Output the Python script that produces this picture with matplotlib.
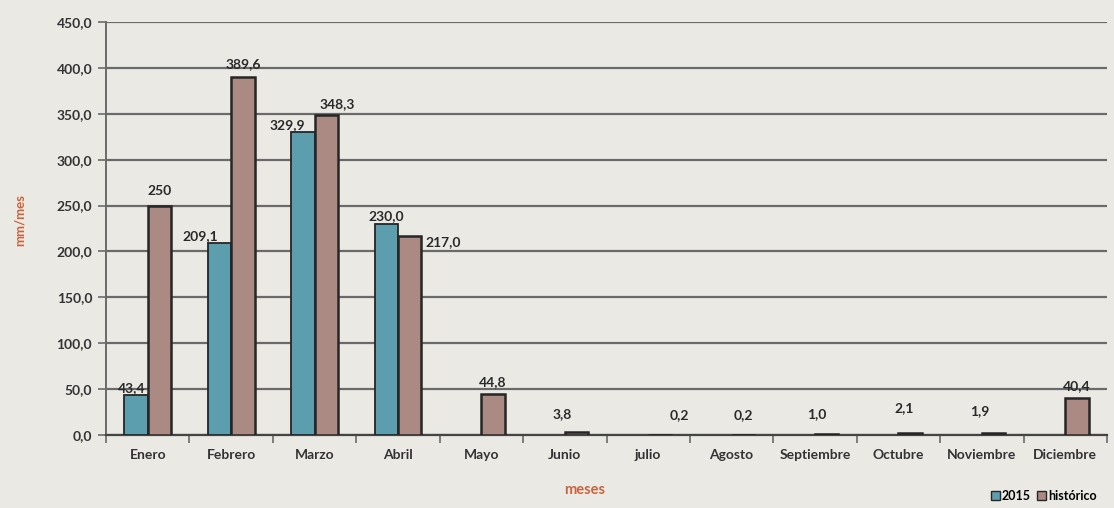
# Monthly rainfall 2015 vs historical average (mm/mes)

import numpy as np
import matplotlib.pyplot as plt
from matplotlib.patches import Patch

# Data
months = ["Enero", "Febrero", "Marzo", "Abril", "Mayo", "Junio", "julio",
          "Agosto", "Septiembre", "Octubre", "Noviembre", "Diciembre"]
rain_2015 = [43.4, 209.1, 329.9, 230.0, None, None, None, None, None, None, None, None]
rain_hist = [250.0, 389.6, 348.3, 217.0, 44.8, 3.8, 0.2, 0.2, 1.0, 2.1, 1.9, 40.4]
labels_2015 = ["43,4", "209,1", "329,9", "230,0"]
labels_hist = ["250", "389,6", "348,3", "217,0", "44,8", "3,8", "0,2", "0,2",
               "1,0", "2,1", "1,9", "40,4"]
yticks = [0, 50, 100, 150, 200, 250, 300, 350, 400, 450]

# Style
C_2015 = "#5d9eae"
C_HIST = "#aa8a82"
EDGE = "#262626"
BG = "#ebe9e4"
GRID = "#6a6a6a"
ORANGE = "#c8643e"
FONT = "Lato"
W = 0.28
FS = 10

# label offsets in points (dx, dy) -- tweaks to mimic the original placement
off_2015 = [(-3, 0), (-14, 0), (-11, 0), (0, 0)]
off_hist = [(0, 6), (0, 5), (8, 4), None, (0, 4), (-10, 8), (14, 10), (0, 10),
            (-7, 10), (-4, 14), (-10, 12), (0, 4)]

plt.rcParams["font.family"] = [FONT, "DejaVu Sans"]
plt.rcParams["font.weight"] = "bold"

fig = plt.figure(figsize=(11.14, 5.08), dpi=100, facecolor=BG)
ax = fig.add_axes([0.0952, 0.1437, 0.8985, 0.813])
ax.set_facecolor(BG)

x = np.arange(len(months))
idx_2015 = [i for i, v in enumerate(rain_2015) if v is not None]
vals_2015 = [rain_2015[i] for i in idx_2015]

ax.bar(x[idx_2015] - W / 2, vals_2015, width=W, color=C_2015,
       edgecolor=EDGE, linewidth=1.3, zorder=3)
ax.bar(x + W / 2, rain_hist, width=W, color=C_HIST,
       edgecolor=EDGE, linewidth=1.8, zorder=3)

# data labels
for k, i in enumerate(idx_2015):
    dx, dy = off_2015[k]
    ax.annotate(labels_2015[k], (x[i] - W / 2, rain_2015[i]),
                xytext=(dx, dy + 1), textcoords="offset points",
                ha="center", va="bottom", fontsize=FS, fontweight="bold",
                color="#2a2a2a", zorder=5)
for i, v in enumerate(rain_hist):
    if off_hist[i] is None:
        # Abril label sits to the right of the bar top
        ax.annotate(labels_hist[i], (x[i] + W, v), xytext=(3, 0),
                    textcoords="offset points", ha="left", va="top",
                    fontsize=FS, fontweight="bold", color="#2a2a2a", zorder=5)
        continue
    dx, dy = off_hist[i]
    ax.annotate(labels_hist[i], (x[i] + W / 2, v), xytext=(dx, dy),
                textcoords="offset points", ha="center", va="bottom",
                fontsize=FS, fontweight="bold", color="#2a2a2a", zorder=5)

# axes
ax.set_xlim(-0.5, len(months) - 0.5)
ax.set_ylim(0, 450)
ax.set_yticks(yticks)
ax.set_yticklabels([f"{v:.1f}".replace(".", ",") for v in yticks],
                   fontsize=FS, fontweight="bold", color="#333333")
ax.yaxis.grid(True, color=GRID, linewidth=1.6, zorder=0)
ax.set_axisbelow(True)
ax.tick_params(axis="y", length=6, width=1.2, color=GRID, pad=4)

ax.set_xticks(np.arange(len(months) + 1) - 0.5)
ax.set_xticklabels([])
ax.set_xticks(x, minor=True)
ax.set_xticklabels(months, minor=True, fontsize=FS, fontweight="bold", color="#333333")
ax.tick_params(axis="x", which="major", length=6, width=1.2, color=GRID)
ax.tick_params(axis="x", which="minor", length=0, pad=10)

for s in ["top", "right"]:
    ax.spines[s].set_visible(False)
ax.spines["left"].set_color(GRID)
ax.spines["left"].set_linewidth(1.4)
ax.spines["bottom"].set_color("#444444")
ax.spines["bottom"].set_linewidth(1.6)

fig.text(0.018, 0.567, "mm/mes", rotation=90, ha="center", va="center",
         fontsize=9.5, fontweight="bold", color=ORANGE)
fig.text(0.525, 0.035, "meses", ha="center", va="center",
         fontsize=10.5, fontweight="bold", color=ORANGE)

handles = [Patch(facecolor=C_2015, edgecolor=EDGE, label="2015"),
           Patch(facecolor=C_HIST, edgecolor=EDGE, label="histórico")]
fig.legend(handles=handles, loc="lower right", bbox_to_anchor=(0.995, -0.01),
           ncol=2, frameon=False, fontsize=9, handlelength=0.7,
           handleheight=0.7, handletextpad=0.2, columnspacing=0.5)

fig.savefig("out.png", dpi=100, facecolor=BG)
plt.close(fig)
